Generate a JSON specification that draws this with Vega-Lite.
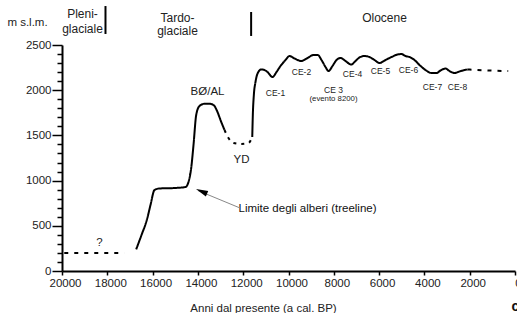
{
  "$schema": "https://vega.github.io/schema/vega-lite/v6.json",
  "width": 453,
  "height": 226,
  "autosize": {"type": "none"},
  "padding": {"left": 62, "top": 45, "right": 2, "bottom": 42},
  "background": "white",
  "config": {
    "view": {"stroke": null},
    "font": "Liberation Sans",
    "axis": {"grid": false, "domainColor": "black", "tickColor": "black", "labelColor": "#222", "titleColor": "#222", "labelFont": "Liberation Sans", "titleFont": "Liberation Sans", "titleFontWeight": "normal"}
  },
  "resolve": {"axis": {"y": "independent"}},
  "datasets": {
    "curve": [
      {"yr": 19900, "alt": 200, "seg": "a", "style": "dashed"},
      {"yr": 17250, "alt": 200, "seg": "a", "style": "dashed"},
      {"yr": 16724, "alt": 240, "seg": "b", "style": "solid"},
      {"yr": 16490, "alt": 398, "seg": "b", "style": "solid"},
      {"yr": 16256, "alt": 564, "seg": "b", "style": "solid"},
      {"yr": 16093, "alt": 730, "seg": "b", "style": "solid"},
      {"yr": 15916, "alt": 896, "seg": "b", "style": "solid"},
      {"yr": 15695, "alt": 913, "seg": "b", "style": "solid"},
      {"yr": 15033, "alt": 918, "seg": "b", "style": "solid"},
      {"yr": 14547, "alt": 929, "seg": "b", "style": "solid"},
      {"yr": 14415, "alt": 985, "seg": "b", "style": "solid"},
      {"yr": 14296, "alt": 1139, "seg": "b", "style": "solid"},
      {"yr": 14194, "alt": 1394, "seg": "b", "style": "solid"},
      {"yr": 14075, "alt": 1726, "seg": "b", "style": "solid"},
      {"yr": 13929, "alt": 1825, "seg": "b", "style": "solid"},
      {"yr": 13709, "alt": 1850, "seg": "b", "style": "solid"},
      {"yr": 13488, "alt": 1850, "seg": "b", "style": "solid"},
      {"yr": 13311, "alt": 1836, "seg": "b", "style": "solid"},
      {"yr": 13135, "alt": 1759, "seg": "b", "style": "solid"},
      {"yr": 13002, "alt": 1670, "seg": "b", "style": "solid"},
      {"yr": 12826, "alt": 1560, "seg": "b", "style": "solid"},
      {"yr": 12826, "alt": 1560, "seg": "c", "style": "dotted"},
      {"yr": 12649, "alt": 1471, "seg": "c", "style": "dotted"},
      {"yr": 12428, "alt": 1416, "seg": "c", "style": "dotted"},
      {"yr": 12075, "alt": 1405, "seg": "c", "style": "dotted"},
      {"yr": 11766, "alt": 1416, "seg": "c", "style": "dotted"},
      {"yr": 11600, "alt": 1482, "seg": "c", "style": "dotted"},
      {"yr": 11600, "alt": 1482, "seg": "d", "style": "solid"},
      {"yr": 11575, "alt": 1726, "seg": "d", "style": "solid"},
      {"yr": 11530, "alt": 1947, "seg": "d", "style": "solid"},
      {"yr": 11457, "alt": 2091, "seg": "d", "style": "solid"},
      {"yr": 11356, "alt": 2190, "seg": "d", "style": "solid"},
      {"yr": 11206, "alt": 2229, "seg": "d", "style": "solid"},
      {"yr": 11060, "alt": 2223, "seg": "d", "style": "solid"},
      {"yr": 10927, "alt": 2201, "seg": "d", "style": "solid"},
      {"yr": 10706, "alt": 2146, "seg": "d", "style": "solid"},
      {"yr": 10530, "alt": 2201, "seg": "d", "style": "solid"},
      {"yr": 10353, "alt": 2268, "seg": "d", "style": "solid"},
      {"yr": 10133, "alt": 2334, "seg": "d", "style": "solid"},
      {"yr": 9956, "alt": 2378, "seg": "d", "style": "solid"},
      {"yr": 9735, "alt": 2351, "seg": "d", "style": "solid"},
      {"yr": 9439, "alt": 2323, "seg": "d", "style": "solid"},
      {"yr": 9161, "alt": 2356, "seg": "d", "style": "solid"},
      {"yr": 8896, "alt": 2389, "seg": "d", "style": "solid"},
      {"yr": 8706, "alt": 2389, "seg": "d", "style": "solid"},
      {"yr": 8543, "alt": 2334, "seg": "d", "style": "solid"},
      {"yr": 8366, "alt": 2257, "seg": "d", "style": "solid"},
      {"yr": 8234, "alt": 2212, "seg": "d", "style": "solid"},
      {"yr": 8057, "alt": 2268, "seg": "d", "style": "solid"},
      {"yr": 7880, "alt": 2334, "seg": "d", "style": "solid"},
      {"yr": 7703, "alt": 2356, "seg": "d", "style": "solid"},
      {"yr": 7483, "alt": 2323, "seg": "d", "style": "solid"},
      {"yr": 7232, "alt": 2284, "seg": "d", "style": "solid"},
      {"yr": 7042, "alt": 2323, "seg": "d", "style": "solid"},
      {"yr": 6865, "alt": 2362, "seg": "d", "style": "solid"},
      {"yr": 6645, "alt": 2378, "seg": "d", "style": "solid"},
      {"yr": 6424, "alt": 2367, "seg": "d", "style": "solid"},
      {"yr": 6203, "alt": 2334, "seg": "d", "style": "solid"},
      {"yr": 5982, "alt": 2301, "seg": "d", "style": "solid"},
      {"yr": 5717, "alt": 2334, "seg": "d", "style": "solid"},
      {"yr": 5452, "alt": 2367, "seg": "d", "style": "solid"},
      {"yr": 5187, "alt": 2395, "seg": "d", "style": "solid"},
      {"yr": 5011, "alt": 2400, "seg": "d", "style": "solid"},
      {"yr": 4834, "alt": 2378, "seg": "d", "style": "solid"},
      {"yr": 4658, "alt": 2367, "seg": "d", "style": "solid"},
      {"yr": 4437, "alt": 2334, "seg": "d", "style": "solid"},
      {"yr": 4216, "alt": 2279, "seg": "d", "style": "solid"},
      {"yr": 3951, "alt": 2223, "seg": "d", "style": "solid"},
      {"yr": 3686, "alt": 2190, "seg": "d", "style": "solid"},
      {"yr": 3465, "alt": 2190, "seg": "d", "style": "solid"},
      {"yr": 3289, "alt": 2218, "seg": "d", "style": "solid"},
      {"yr": 3068, "alt": 2240, "seg": "d", "style": "solid"},
      {"yr": 2891, "alt": 2212, "seg": "d", "style": "solid"},
      {"yr": 2671, "alt": 2190, "seg": "d", "style": "solid"},
      {"yr": 2450, "alt": 2207, "seg": "d", "style": "solid"},
      {"yr": 2229, "alt": 2223, "seg": "d", "style": "solid"},
      {"yr": 2097, "alt": 2229, "seg": "d", "style": "solid"},
      {"yr": 2097, "alt": 2229, "seg": "e", "style": "dashed"},
      {"yr": 1200, "alt": 2218, "seg": "e", "style": "dashed"},
      {"yr": 300, "alt": 2212, "seg": "e", "style": "dashed"}
    ],
    "notes": [
      {"yr": 18344, "alt": 310, "label": "?", "grp": "big"},
      {"yr": 13576, "alt": 1980, "label": "BØ/AL", "grp": "big"},
      {"yr": 12075, "alt": 1228, "label": "YD", "grp": "big"},
      {"yr": 10574, "alt": 1969, "label": "CE-1", "grp": "ce"},
      {"yr": 9426, "alt": 2201, "label": "CE-2", "grp": "ce"},
      {"yr": 8013, "alt": 2005, "label": "CE 3", "grp": "ce"},
      {"yr": 8013, "alt": 1903, "label": "(evento 8200)", "grp": "ev"},
      {"yr": 7174, "alt": 2179, "label": "CE-4", "grp": "ce"},
      {"yr": 5938, "alt": 2212, "label": "CE-5", "grp": "ce"},
      {"yr": 4702, "alt": 2223, "label": "CE-6", "grp": "ce"},
      {"yr": 3643, "alt": 2035, "label": "CE-7", "grp": "ce"},
      {"yr": 2539, "alt": 2035, "label": "CE-8", "grp": "ce"},
      {"yr": 19095, "alt": 2843, "label": "Pleni-", "grp": "head"},
      {"yr": 19095, "alt": 2677, "label": "glaciale", "grp": "head"},
      {"yr": 14901, "alt": 2799, "label": "Tardo-", "grp": "head"},
      {"yr": 14901, "alt": 2655, "label": "glaciale", "grp": "head"},
      {"yr": 5762, "alt": 2799, "label": "Olocene", "grp": "head"}
    ],
    "tree": [
      {"yr": 12208, "alt": 686, "label": "Limite degli alberi (treeline)"}
    ],
    "corner": [
      {"yr": 150, "alt": -398, "label": "c"}
    ],
    "bars": [
      {"yr": 18080, "alt": 2931, "alt2": 2622},
      {"yr": 11650, "alt": 2865, "alt2": 2600}
    ],
    "arrow": [
      {"yr": 12141, "alt": 697, "yr2": 14000, "alt2": 890}
    ],
    "tip": [
      {"yr": 14084, "alt": 907}
    ]
  },
  "layer": [
    {
      "data": {"name": "curve"},
      "mark": {"type": "line", "interpolate": "monotone", "strokeWidth": 2, "color": "black"},
      "encoding": {
        "x": {
          "field": "yr", "type": "quantitative",
          "scale": {"domain": [0, 20000], "reverse": true, "nice": false},
          "axis": {
            "values": [0, 1000, 2000, 3000, 4000, 5000, 6000, 7000, 8000, 9000, 10000, 11000, 12000, 13000, 14000, 15000, 16000, 17000, 18000, 19000, 20000],
            "labelExpr": "datum.value % 2000 === 0 ? '' + datum.value : ''",
            "tickSize": 4, "tickWidth": 1.5, "domainWidth": 2,
            "labelPadding": 2, "labelOffset": 3, "labelFontSize": 11.5,
            "labelOverlap": false, "labelFlush": false,
            "title": "Anni dal presente (a cal. BP)",
            "titleFontSize": 11.5, "titleX": 201, "titleY": 37, "titleBaseline": "middle", "titleAnchor": null, "titleAlign": "center"
          }
        },
        "y": {
          "field": "alt", "type": "quantitative",
          "scale": {"domain": [0, 2500], "nice": false},
          "axis": {
            "orient": "left",
            "values": [0, 500, 1000, 1500, 2000, 2500],
            "format": "d",
            "tickSize": 10, "tickWidth": 1.5, "domainWidth": 2,
            "labelPadding": 1, "labelFontSize": 11.5, "labelOverlap": false,
            "title": "m s.l.m.", "titleAngle": 0, "titleFontSize": 11.5,
            "titleX": -35, "titleY": -23, "titleAlign": "center", "titleBaseline": "middle"
          }
        },
        "detail": {"field": "seg"},
        "strokeDash": {
          "field": "style", "type": "nominal",
          "scale": {"domain": ["solid", "dotted", "dashed"], "range": [[1, 0], [3, 5], [4, 6]]},
          "legend": null
        }
      }
    },
    {
      "data": {"name": "notes"},
      "transform": [{"filter": "datum.grp === 'big'"}],
      "mark": {"type": "text", "fontSize": 11.5, "color": "#222", "font": "Liberation Sans"},
      "encoding": {
        "x": {"field": "yr", "type": "quantitative"},
        "y": {"field": "alt", "type": "quantitative", "axis": null},
        "text": {"field": "label"}
      }
    },
    {
      "data": {"name": "notes"},
      "transform": [{"filter": "datum.grp === 'ce'"}],
      "mark": {"type": "text", "fontSize": 8.5, "color": "#222", "font": "Liberation Sans"},
      "encoding": {
        "x": {"field": "yr", "type": "quantitative"},
        "y": {"field": "alt", "type": "quantitative", "axis": null},
        "text": {"field": "label"}
      }
    },
    {
      "data": {"name": "notes"},
      "transform": [{"filter": "datum.grp === 'ev'"}],
      "mark": {"type": "text", "fontSize": 7.8, "color": "#222", "font": "Liberation Sans"},
      "encoding": {
        "x": {"field": "yr", "type": "quantitative"},
        "y": {"field": "alt", "type": "quantitative", "axis": null},
        "text": {"field": "label"}
      }
    },
    {
      "data": {"name": "notes"},
      "transform": [{"filter": "datum.grp === 'head'"}],
      "mark": {"type": "text", "fontSize": 12, "color": "#222", "font": "Liberation Sans"},
      "encoding": {
        "x": {"field": "yr", "type": "quantitative"},
        "y": {"field": "alt", "type": "quantitative", "axis": null},
        "text": {"field": "label"}
      }
    },
    {
      "data": {"name": "tree"},
      "mark": {"type": "text", "fontSize": 11.5, "color": "#111", "align": "left", "font": "Liberation Sans"},
      "encoding": {
        "x": {"field": "yr", "type": "quantitative"},
        "y": {"field": "alt", "type": "quantitative", "axis": null},
        "text": {"field": "label"}
      }
    },
    {
      "data": {"name": "corner"},
      "mark": {"type": "text", "fontSize": 14, "fontWeight": "bold", "color": "#111", "align": "left", "font": "Liberation Sans"},
      "encoding": {
        "x": {"field": "yr", "type": "quantitative"},
        "y": {"field": "alt", "type": "quantitative", "axis": null},
        "text": {"field": "label"}
      }
    },
    {
      "data": {"name": "bars"},
      "mark": {"type": "rule", "strokeWidth": 2, "color": "black"},
      "encoding": {
        "x": {"field": "yr", "type": "quantitative"},
        "y": {"field": "alt", "type": "quantitative", "axis": null},
        "y2": {"field": "alt2"}
      }
    },
    {
      "data": {"name": "arrow"},
      "mark": {"type": "rule", "strokeWidth": 1, "color": "#888"},
      "encoding": {
        "x": {"field": "yr", "type": "quantitative"},
        "y": {"field": "alt", "type": "quantitative", "axis": null},
        "x2": {"field": "yr2"},
        "y2": {"field": "alt2"}
      }
    },
    {
      "data": {"name": "tip"},
      "mark": {"type": "point", "shape": "M0,0L0.6,2.4L-0.6,2.4Z", "filled": true, "color": "black", "size": 100, "angle": 293, "opacity": 1},
      "encoding": {
        "x": {"field": "yr", "type": "quantitative"},
        "y": {
          "field": "alt", "type": "quantitative",
          "axis": {
            "orient": "left", "offset": 0,
            "values": [100, 200, 300, 400, 600, 700, 800, 900, 1100, 1200, 1300, 1400, 1600, 1700, 1800, 1900, 2100, 2200, 2300, 2400],
            "labels": false, "domain": false, "title": null,
            "tickSize": 5, "tickWidth": 1.5
          }
        }
      }
    }
  ]
}
